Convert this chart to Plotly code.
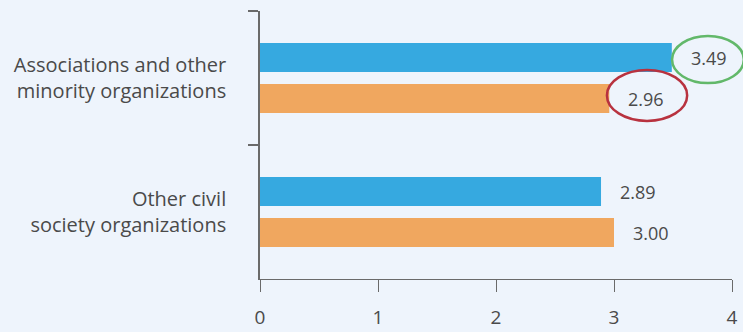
import plotly.graph_objects as go

categories = ["Associations and other<br>minority organizations", "Other civil<br>society organizations"]
series_a = [3.49, 2.89]
series_b = [2.96, 3.00]
x_ticks = [0, 1, 2, 3, 4]

BG = "#eef4fc"
BLUE = "#36a9e0"
ORANGE = "#f0a75f"
TXT = "#4a4a4a"
AX = "#6a6a6a"
FONT = "Open Sans"

fig = go.Figure()
fig.add_trace(go.Bar(y=categories, x=series_a, orientation="h", marker=dict(color=BLUE, line_width=0),
                     showlegend=False, hoverinfo="skip"))
fig.add_trace(go.Bar(y=categories, x=series_b, orientation="h", marker=dict(color=ORANGE, line_width=0),
                     showlegend=False, hoverinfo="skip"))

# value labels
for vals, off in ((series_a, -0.153), (series_b, 0.153)):
    for i, v in enumerate(vals):
        fig.add_annotation(x=v, y=i + off, xref="x", yref="y", text=f"{v:.2f}", showarrow=False,
                           xanchor="left", xshift=17, font=dict(family=FONT, size=18, color=TXT))

# highlight ellipses
fig.add_shape(type="circle", xref="paper", yref="paper", x0=0.873, x1=1.025, y0=0.731, y1=0.907,
              line=dict(color="#62b86a", width=2.5), layer="above")
fig.add_shape(type="circle", xref="paper", yref="paper", x0=0.735, x1=0.905, y0=0.590, y1=0.780,
              line=dict(color="#b8323f", width=2.5), layer="above")

fig.update_layout(
    width=743, height=332,
    margin=dict(l=260, r=11, t=11, b=53),
    paper_bgcolor=BG, plot_bgcolor=BG,
    barmode="group", bargap=0.388, bargroupgap=0.293,
    font=dict(family=FONT, color=TXT),
)
fig.update_xaxes(range=[0, 4], tickvals=x_ticks, showgrid=False, zeroline=False, automargin=False,
                 showline=True, linecolor=AX, linewidth=1.2,
                 ticks="outside", ticklen=12, tickcolor=AX, tickwidth=1.2,
                 tickfont=dict(family=FONT, size=19, color=TXT), ticklabelstandoff=9)
fig.update_yaxes(autorange="reversed", showgrid=False, zeroline=False, automargin=False,
                 showline=True, linecolor=AX, linewidth=1.6,
                 ticks="outside", ticklen=10, tickcolor=AX, tickwidth=1.6, tickson="boundaries",
                 tickfont=dict(family=FONT, size=20, color=TXT), ticklabelstandoff=28)

fig.write_html("out.html", config={"displayModeBar": False},
               post_script="document.body.style.margin='0';document.body.style.overflow='hidden';")
